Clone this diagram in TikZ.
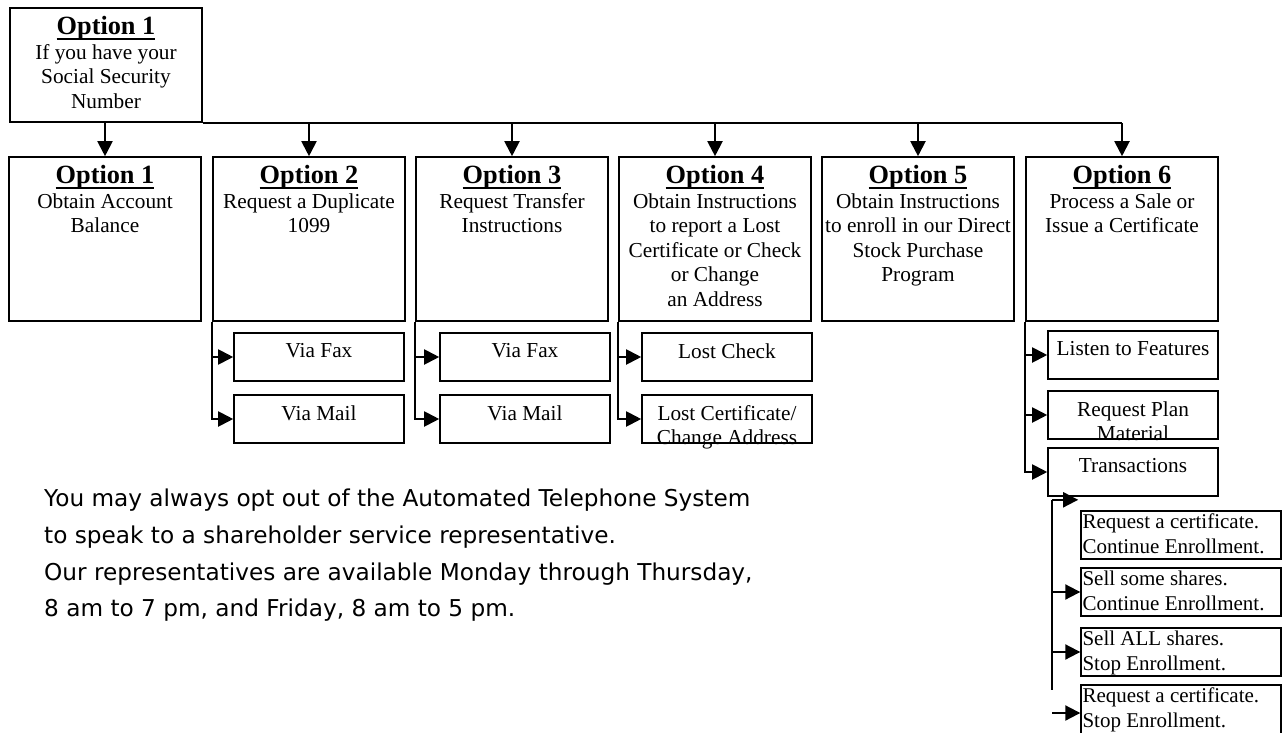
\documentclass[tikz,border=0pt]{standalone}
\usepackage{fontspec}
\setmainfont{Liberation Serif}
\newfontfamily\notefont{DejaVu Sans}
\usepackage{tikz}
\usetikzlibrary{
  arrows.meta,
  positioning
}

\newsavebox\headbox
\newcommand\opthead[1]{{\fontsize{26.3}{24.5}\selectfont\bfseries
    \sbox\headbox{#1}\rlap{\usebox\headbox}\rule[-5.5pt]{\wd\headbox}{2.2pt}}}

\begin{document}
\begin{tikzpicture}[%詳細設定
        x=1pt,y=-1pt,
        wire/.style={
            line width=2pt
          },arr/.style={
            wire,
            -{Triangle[width=15pt,length=15pt]}
          },optbox/.style={
            draw,
            line width=1.6pt,
            minimum width=192pt,
            minimum height=164pt,
            inner sep=0pt
          },subbox/.style={
            optbox,
            minimum width=170pt,
            minimum height=48pt
          },txbox/.style={
            optbox,
            line width=1.4pt,
            minimum width=200pt,
            minimum height=48pt
          },intext/.style={
            anchor=north,
            align=center,
            inner sep=0pt,
            yshift=-9pt,
            font=\fontsize{21.3}{24.5}\selectfont
          },subtext/.style={
            intext,
            yshift=-2pt
          },txtext/.style={
            anchor=north west,
            align=left,
            inner sep=0pt,
            xshift=2pt,
            yshift=-3.5pt,
            font=\fontsize{21}{25}\selectfont
          },note/.style={
            anchor=north west,
            align=left,
            inner sep=0pt,
            font=\notefont\fontsize{23.2}{36.6}\selectfont
          }
      ]
      \useasboundingbox (0,0) rectangle (1282,733);

      % 一番上の箱
      \node[optbox,minimum height=114pt,
        label={[intext]north:{\opthead{Option 1}\\If you have your\\Social Security\\Number}}]
        (top) at (106,65) {};

      % 選択肢の箱
      \node[optbox,label={[intext]north:{\opthead{Option 1}\\Obtain Account\\Balance}}]
        (opt1) at (105,239) {};
      \node[optbox,label={[intext]north:{\opthead{Option 2}\\Request a Duplicate\\1099}}]
        (opt2) at (309,239) {};
      \node[optbox,label={[intext]north:{\opthead{Option 3}\\Request Transfer\\Instructions}}]
        (opt3) at (512,239) {};
      \node[optbox,label={[intext]north:{\opthead{Option 4}\\Obtain Instructions\\to report a Lost\\Certificate or Check\\or Change\\an Address}}]
        (opt4) at (715,239) {};
      \node[optbox,label={[intext]north:{\opthead{Option 5}\\Obtain Instructions\\to enroll in our Direct\\Stock Purchase\\Program}}]
        (opt5) at (918,239) {};
      \node[optbox,label={[intext]north:{\opthead{Option 6}\\Process a Sale or\\Issue a Certificate}}]
        (opt6) at (1122,239) {};

      % 下の小さい箱
      \node[subbox,label={[subtext]north:Via Fax}] (fax2) at (319,357) {};
      \node[subbox,label={[subtext]north:Via Mail}] (mail2) at (319,419) {};
      \node[subbox,label={[subtext]north:Via Fax}] (fax3) at (525,357) {};
      \node[subbox,label={[subtext]north:Via Mail}] (mail3) at (525,419) {};
      \node[subbox,label={[subtext]north:Lost Check}] (chk4) at (727,357) {};
      \node[subbox,label={[subtext]north:{Lost Certificate/\\Change Address}}] (cert4) at (727,419) {};
      \node[subbox,label={[subtext]north:Listen to Features}] (feat6) at (1133,355) {};
      \node[subbox,label={[subtext]north:{Request Plan\\Material}}] (plan6) at (1133,415) {};
      \node[subbox,label={[subtext]north:Transactions}] (trans6) at (1133,472) {};

      % 取引の箱
      \node[txbox,label={[txtext]north west:{Request a certificate.\\Continue Enrollment.}}] (ss1) at (1181,535) {};
      \node[txbox,label={[txtext]north west:{Sell some shares.\\Continue Enrollment.}}] (ss2) at (1181,592) {};
      \node[txbox,label={[txtext]north west:{Sell ALL shares.\\Stop Enrollment.}}] (ss3) at (1181,652) {};
      \node[txbox,minimum height=56pt,label={[txtext]north west:{Request a certificate.\\Stop Enrollment.}}] (ss4) at (1181,713) {};

      % 横線と矢印
      \draw[wire] (top.south east) -- (top.south -| opt6.north);
      \foreach \o in {opt1,opt2,opt3,opt4,opt5,opt6}
        \draw[arr] (top.south -| \o.north) -- (\o.north);

      \foreach \o/\a/\b in {opt2/fax2/mail2,opt3/fax3/mail3,opt4/chk4/cert4}{
          \draw[arr] (\o.south west) |- (\b.west);
          \draw[arr] (\o.south west |- \a.west) -- (\a.west);
        }
      \draw[arr] (opt6.south west) |- (trans6.west);
      \foreach \s in {feat6,plan6}
        \draw[arr] (opt6.south west |- \s.west) -- (\s.west);

      % 取引の枝
      \coordinate (tx) at ([shift={(5pt,-3pt)}]trans6.south west);
      \coordinate (txend) at ([xshift=26pt]tx);
      \path (tx |- ss4.north) ++(0pt,-6pt) coordinate (txbot);
      \draw[wire] (tx) -- (txbot);
      \draw[arr] (tx) -- (txend);
      \foreach \s in {ss2,ss3,ss4}
        \draw[arr] (tx |- \s.west) -- (\s.west);

      % 注意書き
      \node[note] (notes) at (44,489) {You may always opt out of the Automated Telephone System\\
        to speak to a shareholder service representative.\\
        Our representatives are available Monday through Thursday,\\
        8 am to 7 pm, and Friday, 8 am to 5 pm.};

    \end{tikzpicture}
\end{document}
